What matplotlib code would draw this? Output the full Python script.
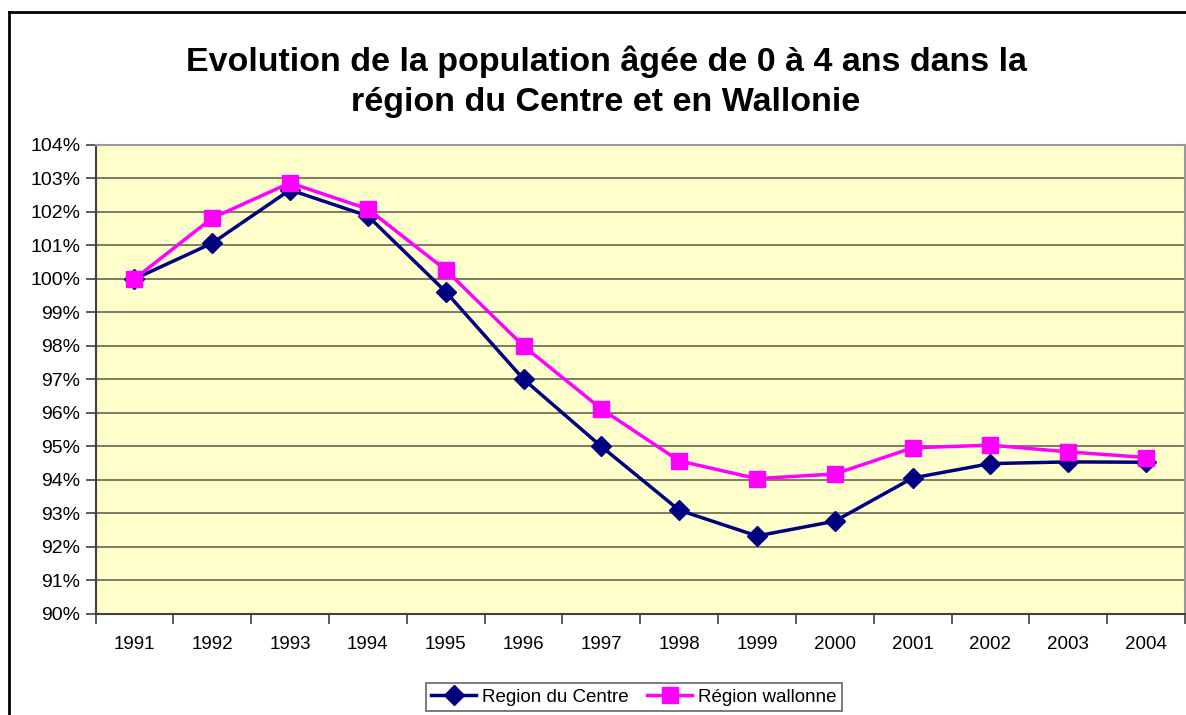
import matplotlib.pyplot as plt
from matplotlib.lines import Line2D
from matplotlib.ticker import FixedLocator, FuncFormatter

# data (index, 1991 = 100%)
years = ['1991', '1992', '1993', '1994', '1995', '1996', '1997',
         '1998', '1999', '2000', '2001', '2002', '2003', '2004']
centre = [100.0, 101.07, 102.66, 101.88, 99.62, 97.01, 95.0,
          93.1, 92.33, 92.77, 94.06, 94.49, 94.54, 94.53]
wallonne = [100.0, 101.82, 102.87, 102.09, 100.27, 98.0, 96.12,
            94.57, 94.04, 94.18, 94.96, 95.04, 94.84, 94.67]

plt.rcParams['font.family'] = ['Liberation Sans', 'DejaVu Sans']

fig = plt.figure(figsize=(11.86, 7.15), dpi=100)
ax = fig.add_axes([95.5 / 1186, 1 - 614 / 715, 1089.5 / 1186, 469 / 715])
ax.set_facecolor('#FFFFCC')

x = list(range(len(years)))
ax.plot(x, centre, color='#000080', lw=2.5, marker='D', ms=10,
        label='Region du Centre', zorder=3)
ax.plot(x, wallonne, color='#FF00FF', lw=2.5, marker='s', ms=11,
        label='Région wallonne', zorder=3)

ax.set_xlim(-0.5, len(years) - 0.5)
ax.set_ylim(90, 104)
ax.set_yticks(range(90, 105))
ax.yaxis.set_major_formatter(FuncFormatter(lambda v, p: f'{int(v)}%'))
ax.grid(axis='y', color='black', lw=1.2, alpha=0.6)
ax.set_axisbelow(True)

# category axis: labels centred, tick marks on the boundaries
ax.set_xticks(x)
ax.set_xticklabels(years)
ax.tick_params(axis='x', which='major', length=0, pad=16, labelsize=13.5)
ax.xaxis.set_minor_locator(FixedLocator([i - 0.5 for i in range(len(years) + 1)]))
ax.tick_params(axis='x', which='minor', length=7, width=1.2, color='#404040')
ax.tick_params(axis='y', length=7, width=1.2, color='#404040', labelsize=14, pad=4)

for s in ['left', 'bottom']:
    ax.spines[s].set_color('#404040')
    ax.spines[s].set_linewidth(1.5)
for s in ['top', 'right']:
    ax.spines[s].set_color('#999999')
    ax.spines[s].set_linewidth(1.5)

fig.text(0.511, 0.886, 'Evolution de la population âgée de 0 à 4 ans dans la\nrégion du Centre et en Wallonie',
         ha='center', va='center', fontsize=24.5, fontweight='bold', linespacing=1.38)

leg = fig.legend(loc='center', bbox_to_anchor=(634 / 1186, 1 - 697 / 715), ncol=2,
                 fontsize=13.5, frameon=True, fancybox=False, edgecolor='#404040',
                 handlelength=2.4, handletextpad=0.3, columnspacing=1.0,
                 borderpad=0.3)
leg.get_frame().set_linewidth(1.2)

# outer chart border (runs past the right and bottom image edges)
fig.add_artist(Line2D([9 / 1186, 9 / 1186], [0, 1 - 12 / 715], color='black', lw=2,
                      transform=fig.transFigure))
fig.add_artist(Line2D([9 / 1186, 1], [1 - 12 / 715, 1 - 12 / 715], color='black', lw=2,
                      transform=fig.transFigure))

plt.savefig('out.png', dpi=100)
